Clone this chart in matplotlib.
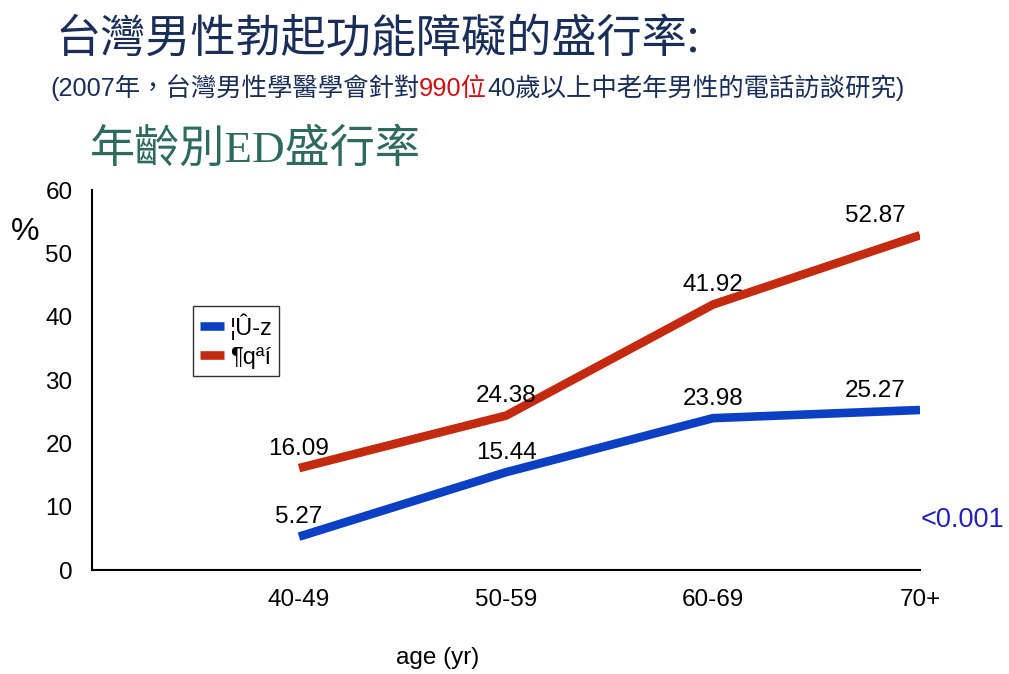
import matplotlib
matplotlib.use("Agg")
import matplotlib.pyplot as plt

plt.rcParams['font.family'] = ['Liberation Sans', 'Noto Sans CJK TC', 'DejaVu Sans']

ages = ["40-49", "50-59", "60-69", "70+"]
blue_vals = [5.27, 15.44, 23.98, 25.27]
red_vals = [16.09, 24.38, 41.92, 52.87]
blue_name = "¦Û-z"
red_name = "¶qªí"

x = [1, 2, 3, 4]

fig = plt.figure(figsize=(10.09, 6.74), dpi=100)
ax = fig.add_axes([0.0912, 0.1543, 0.8206, 0.5637])

ax.plot(x, blue_vals, color="#0c40c4", lw=6.2, label=blue_name, solid_capstyle="butt")
ax.plot(x, red_vals, color="#c42a10", lw=6.2, label=red_name, solid_capstyle="butt")

# value labels
for i in range(4):
    dx = -32 if i == 3 else 0
    ax.annotate(f"{blue_vals[i]:.2f}", (x[i], blue_vals[i]), xytext=(dx, 14),
                textcoords="offset points", ha="center", va="center", fontsize=17.5)
    ax.annotate(f"{red_vals[i]:.2f}", (x[i], red_vals[i]), xytext=(dx, 14),
                textcoords="offset points", ha="center", va="center", fontsize=17.5)

ax.set_xlim(0, 4)
ax.set_ylim(0, 60)
ax.set_xticks(x)
ax.set_xticklabels(ages)
ax.set_yticks(range(0, 61, 10))
ax.tick_params(length=0, labelsize=17.5, pad=14)
ax.spines["top"].set_visible(False)
ax.spines["right"].set_visible(False)
ax.spines["left"].set_linewidth(1.5)
ax.spines["bottom"].set_linewidth(1.5)

ax.legend(loc="upper left", bbox_to_anchor=(0.122, 0.695), fontsize=17, frameon=True,
          fancybox=False, edgecolor="black", handlelength=1.0, handletextpad=0.25,
          borderpad=0.3, labelspacing=0.3, borderaxespad=0)

fig.text(25 / 1009, 1 - 232 / 674, "%", fontsize=23, ha="center", va="center")
fig.text(438 / 1009, 1 - 658 / 674, "age (yr)", fontsize=17.5, ha="center", va="center")
fig.text(962 / 1009, 1 - 520 / 674, "<0.001", fontsize=19.5, ha="center", va="center",
         color="#2020c0")

# titles
fig.text(55 / 1009, 1 - 38 / 674, "台灣男性勃起功能障礙的盛行率:", fontsize=32.5,
         color="#1a2e5a", ha="left", va="center", family=['Noto Sans CJK TC'])

parts = [("(2007年，台灣男性學醫學會針對", "#1a2e5a"), ("990位", "#d01010"),
         ("40歲以上中老年男性的電話訪談研究)", "#1a2e5a")]
t = fig.text(50 / 1009, 1 - 96 / 674, parts[0][0], fontsize=18.3, color=parts[0][1],
             ha="left", va="baseline")
for s, c in parts[1:]:
    t = ax.annotate(s, xy=(1, 0), xycoords=t, xytext=(0, 0), textcoords="offset points",
                    fontsize=18.3, color=c, ha="left", va="bottom", annotation_clip=False)

fig.text(90 / 1009, 1 - 150 / 674, "年齡別ED盛行率", fontsize=32.5, color="#2e6b5e",
         ha="left", va="center", family=['Liberation Serif', 'Noto Sans CJK TC'])

fig.savefig("out.png", dpi=100)
